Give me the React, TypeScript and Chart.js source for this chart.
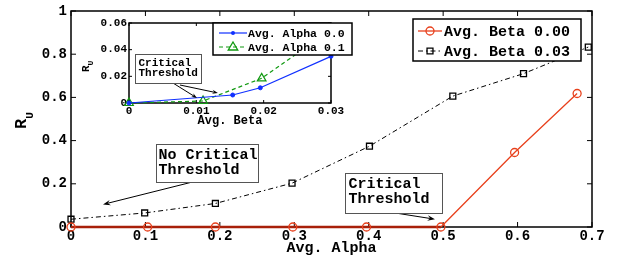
import React, { useEffect, useRef } from 'react';
import { Chart, registerables } from 'chart.js';

Chart.register(...registerables);

const FONT = '"Liberation Mono", "Courier New", monospace';

// ---- main chart data ----
const mainXTicks = [0, 0.1, 0.2, 0.3, 0.4, 0.5, 0.6, 0.7];
const mainYTicks = [0, 0.2, 0.4, 0.6, 0.8, 1];
const beta0Alpha = [0, 0.103, 0.194, 0.298, 0.397, 0.497, 0.596, 0.68];
const beta0RU = [0, 0, 0, 0, 0, 0, 0.345, 0.618];
const beta3Alpha = [0, 0.099, 0.194, 0.297, 0.401, 0.513, 0.608, 0.695];
const beta3RU = [0.036, 0.065, 0.109, 0.203, 0.374, 0.606, 0.71, 0.833];
const mainLegendLabels = ['Avg. Beta 0.00', 'Avg. Beta 0.03'];

// ---- inset data ----
const insetXTicks = [0, 0.01, 0.02, 0.03];
const insetYTicks = [0, 0.02, 0.04, 0.06];
const alpha0Beta = [0, 0.0154, 0.0195, 0.03];
const alpha0RU = [0, 0.006, 0.0114, 0.035];
const alpha1Beta = [0, 0.011, 0.0197, 0.03];
const alpha1RU = [0, 0.0015, 0.0185, 0.055];
const insetLegendLabels = ['Avg. Alpha 0.0', 'Avg. Alpha 0.1'];

const RED = '#e8401c';
const DARKRED = '#a8200a';
const BLUE = '#1030ff';
const GREEN = '#119911';

type Note = {
  x: number; y: number; w: number; h: number;
  lines: string[]; font: string; lineH: number; padX: number; padY: number;
  arrows: { fx: number; fy: number; tx: number; ty: number }[];
  head: number;
};

const mainNotes: Note[] = [
  {
    x: 0.1142, y: 0.382, w: 102, h: 38, lines: ['No Critical', 'Threshold'],
    font: `bold 15px ${FONT}`, lineH: 15.5, padX: 2, padY: 1.5,
    arrows: [{ fx: 0.164, fy: 0.209, tx: 0.043, ty: 0.1045 }], head: 8,
  },
  {
    x: 0.368, y: 0.25, w: 97, h: 40, lines: ['Critical', 'Threshold'],
    font: `bold 15px ${FONT}`, lineH: 15, padX: 3, padY: 2.5,
    arrows: [{ fx: 0.438, fy: 0.0636, tx: 0.489, ty: 0.036 }], head: 8,
  },
];

const insetNotes: Note[] = [
  {
    x: 0.00089, y: 0.03675, w: 66, h: 29, lines: ['Critical', 'Threshold'],
    font: `bold 11px ${FONT}`, lineH: 10, padX: 3, padY: 3,
    arrows: [
      { fx: 0.00653, fy: 0.015, tx: 0.0101, ty: 0.00375 },
      { fx: 0.00757, fy: 0.0135, tx: 0.0132, ty: 0.0075 },
    ],
    head: 6,
  },
];

function drawArrow(ctx: CanvasRenderingContext2D, x1: number, y1: number, x2: number, y2: number, head: number) {
  const ang = Math.atan2(y2 - y1, x2 - x1);
  ctx.beginPath();
  ctx.moveTo(x1, y1);
  ctx.lineTo(x2 - Math.cos(ang) * head * 0.6, y2 - Math.sin(ang) * head * 0.6);
  ctx.stroke();
  ctx.beginPath();
  ctx.moveTo(x2, y2);
  ctx.lineTo(x2 - head * Math.cos(ang - 0.35), y2 - head * Math.sin(ang - 0.35));
  ctx.lineTo(x2 - head * 0.6 * Math.cos(ang), y2 - head * 0.6 * Math.sin(ang));
  ctx.lineTo(x2 - head * Math.cos(ang + 0.35), y2 - head * Math.sin(ang + 0.35));
  ctx.closePath();
  ctx.fill();
}

function drawNotes(chart: any, notes: Note[]) {
  const { ctx } = chart;
  const x = chart.scales.x;
  const y = chart.scales.y;
  ctx.save();
  notes.forEach((n) => {
    ctx.strokeStyle = '#000';
    ctx.fillStyle = '#000';
    ctx.lineWidth = 1;
    n.arrows.forEach((a) => {
      drawArrow(ctx, x.getPixelForValue(a.fx), y.getPixelForValue(a.fy), x.getPixelForValue(a.tx), y.getPixelForValue(a.ty), n.head);
    });
    const bx = Math.round(x.getPixelForValue(n.x)) + 0.5;
    const by = Math.round(y.getPixelForValue(n.y)) + 0.5;
    ctx.fillStyle = '#fff';
    ctx.fillRect(bx, by, n.w, n.h);
    ctx.strokeStyle = '#555';
    ctx.lineWidth = 1;
    ctx.strokeRect(bx, by, n.w, n.h);
    ctx.fillStyle = '#000';
    ctx.font = n.font;
    ctx.textAlign = 'left';
    ctx.textBaseline = 'middle';
    n.lines.forEach((l, i) => {
      ctx.fillText(l, bx + n.padX, by + n.padY + n.lineH * (i + 0.5) + 1);
    });
  });
  ctx.restore();
}

function drawMarker(ctx: CanvasRenderingContext2D, style: string, x: number, y: number, r: number, color: string) {
  ctx.save();
  ctx.strokeStyle = color;
  ctx.fillStyle = color;
  ctx.lineWidth = 1.3;
  ctx.setLineDash([]);
  ctx.beginPath();
  if (style === 'circle') {
    ctx.arc(x, y, r, 0, Math.PI * 2);
    ctx.stroke();
  } else if (style === 'dot') {
    ctx.arc(x, y, r, 0, Math.PI * 2);
    ctx.fill();
  } else if (style === 'rect') {
    const s = r * Math.SQRT1_2;
    ctx.rect(x - s, y - s, 2 * s, 2 * s);
    ctx.stroke();
  } else if (style === 'triangle') {
    ctx.moveTo(x, y - r);
    ctx.lineTo(x + r * 0.95, y + r * 0.6);
    ctx.lineTo(x - r * 0.95, y + r * 0.6);
    ctx.closePath();
    ctx.stroke();
  }
  ctx.restore();
}

type LegendItem = { label: string; color: string; dash: number[]; marker: string; r: number; width: number };

function drawLegend(
  ctx: CanvasRenderingContext2D, left: number, top: number, w: number, h: number,
  items: LegendItem[], rowY: number[], lineX: [number, number], textX: number, font: string,
) {
  ctx.save();
  ctx.fillStyle = '#fff';
  ctx.fillRect(left, top, w, h);
  ctx.strokeStyle = '#000';
  ctx.lineWidth = 1.5;
  ctx.strokeRect(left, top, w, h);
  items.forEach((it, i) => {
    const yy = top + rowY[i];
    ctx.strokeStyle = it.color;
    ctx.lineWidth = it.width;
    ctx.setLineDash(it.dash);
    ctx.beginPath();
    ctx.moveTo(left + lineX[0], yy);
    ctx.lineTo(left + lineX[1], yy);
    ctx.stroke();
    ctx.setLineDash([]);
    drawMarker(ctx, it.marker, left + (lineX[0] + lineX[1]) / 2, yy, it.r, it.color);
    ctx.fillStyle = '#000';
    ctx.font = font;
    ctx.textAlign = 'left';
    ctx.textBaseline = 'middle';
    ctx.fillText(it.label, left + textX, yy + 1);
  });
  ctx.restore();
}

function framePlugin(xTicks: number[], yTicks: number[], tickLen: number, lw: number, fillWhite: boolean) {
  return {
    id: 'frame',
    beforeDatasetsDraw(chart: any) {
      const { ctx, chartArea } = chart;
      const { left, right, top, bottom } = chartArea;
      const x = chart.scales.x;
      const y = chart.scales.y;
      ctx.save();
      if (fillWhite) {
        ctx.fillStyle = '#fff';
        ctx.fillRect(left, top, right - left, bottom - top);
      }
      ctx.strokeStyle = '#000';
      ctx.lineWidth = lw;
      ctx.strokeRect(left, top, right - left, bottom - top);
      ctx.lineWidth = 1;
      ctx.beginPath();
      xTicks.forEach((v) => {
        const px = x.getPixelForValue(v);
        ctx.moveTo(px, bottom);
        ctx.lineTo(px, bottom - tickLen);
        ctx.moveTo(px, top);
        ctx.lineTo(px, top + tickLen);
      });
      yTicks.forEach((v) => {
        const py = y.getPixelForValue(v);
        ctx.moveTo(left, py);
        ctx.lineTo(left + tickLen, py);
        ctx.moveTo(right, py);
        ctx.lineTo(right - tickLen, py);
      });
      ctx.stroke();
      ctx.restore();
    },
  };
}

function drawRU(ctx: CanvasRenderingContext2D, ox: number, oy: number, big: number, small: number, sub: number) {
  ctx.save();
  ctx.translate(ox, oy);
  ctx.rotate(-Math.PI / 2);
  ctx.fillStyle = '#000';
  ctx.textAlign = 'left';
  ctx.textBaseline = 'alphabetic';
  ctx.font = `bold ${big}px ${FONT}`;
  ctx.fillText('R', 0, 0);
  const w = ctx.measureText('R').width;
  ctx.font = `bold ${small}px ${FONT}`;
  ctx.fillText('U', w, sub);
  ctx.restore();
}

const mainTickFmt = (v: number) => (v === 0 ? '0' : v === 1 ? '1' : v.toFixed(1));
const insetTickFmt = (v: number) => (v === 0 ? '0' : v.toFixed(2));

export default function App() {
  const mainRef = useRef<HTMLCanvasElement>(null);
  const insetRef = useRef<HTMLCanvasElement>(null);

  useEffect(() => {
    document.body.style.margin = '0';
    const flat = (c: any) => c.p0.parsed.y === 0 && c.p1.parsed.y === 0;

    const main = new Chart(mainRef.current!, {
      type: 'line',
      data: {
        datasets: [
          {
            data: beta0Alpha.map((x, i) => ({ x, y: beta0RU[i] })),
            borderColor: RED,
            borderWidth: 1.3,
            pointStyle: 'circle',
            pointRadius: 4,
            pointBorderColor: RED,
            pointBackgroundColor: 'rgba(0,0,0,0)',
            pointBorderWidth: 1.3,
            clip: false as any,
            segment: {
              borderColor: (c: any) => (flat(c) ? DARKRED : RED),
              borderWidth: (c: any) => (flat(c) ? 2.6 : 1.3),
            },
          },
          {
            data: beta3Alpha.map((x, i) => ({ x, y: beta3RU[i] })),
            borderColor: '#000',
            borderWidth: 1,
            borderDash: [5, 3, 1.5, 3],
            pointStyle: 'rect',
            pointRadius: 4.2,
            pointBorderColor: '#000',
            pointBackgroundColor: 'rgba(0,0,0,0)',
            pointBorderWidth: 1.3,
            clip: false as any,
          },
        ],
      },
      options: {
        animation: false,
        responsive: false,
        events: [],
        layout: { padding: { top: 7, right: 26, left: 0, bottom: 0 } },
        plugins: { legend: { display: false }, tooltip: { enabled: false } },
        scales: {
          x: {
            type: 'linear',
            min: 0,
            max: 0.7,
            afterFit: (s: any) => { s.height = 34; },
            afterBuildTicks: (s: any) => { s.ticks = mainXTicks.map((v) => ({ value: v })); },
            grid: { display: false, drawTicks: false },
            border: { display: false },
            ticks: {
              callback: (v: any) => mainTickFmt(Number(v)),
              font: { family: FONT, size: 14, weight: 'bold', lineHeight: 1 },
              color: '#000',
              padding: 2,
              maxRotation: 0,
              autoSkip: false,
            },
          },
          y: {
            type: 'linear',
            min: 0,
            max: 1,
            afterFit: (s: any) => { s.width = 71; },
            afterBuildTicks: (s: any) => { s.ticks = mainYTicks.map((v) => ({ value: v })); },
            grid: { display: false, drawTicks: false },
            border: { display: false },
            ticks: {
              callback: (v: any) => mainTickFmt(Number(v)),
              font: { family: FONT, size: 14, weight: 'bold', lineHeight: 1 },
              color: '#000',
              padding: 4,
            },
          },
        },
      } as any,
      plugins: [
        framePlugin(mainXTicks, mainYTicks, 5, 1.5, false),
        {
          id: 'mainDecor',
          afterDatasetsDraw(chart: any) {
            const { ctx, chartArea } = chart;
            drawNotes(chart, mainNotes);
            drawLegend(
              ctx, chartArea.right - 179, chartArea.top + 8, 168, 42,
              [
                { label: mainLegendLabels[0], color: RED, dash: [], marker: 'circle', r: 4, width: 1.3 },
                { label: mainLegendLabels[1], color: '#000', dash: [5, 3, 1.5, 3], marker: 'rect', r: 4.2, width: 1 },
              ],
              [12, 32], [5, 29], 31, `bold 15px ${FONT}`,
            );
            ctx.save();
            ctx.fillStyle = '#000';
            ctx.font = `bold 15px ${FONT}`;
            ctx.textAlign = 'center';
            ctx.textBaseline = 'middle';
            ctx.fillText('Avg. Alpha', (chartArea.left + chartArea.right) / 2, chartArea.bottom + 21);
            ctx.restore();
            drawRU(ctx, chartArea.left - 45, (chartArea.top + chartArea.bottom) / 2 + 10, 17, 11, 7);
          },
        },
      ],
    });

    const inset = new Chart(insetRef.current!, {
      type: 'line',
      data: {
        datasets: [
          {
            data: alpha0Beta.map((x, i) => ({ x, y: alpha0RU[i] })),
            borderColor: BLUE,
            borderWidth: 1.2,
            pointStyle: 'circle',
            pointRadius: 2,
            pointBorderColor: BLUE,
            pointBackgroundColor: BLUE,
            pointBorderWidth: 1,
            clip: false as any,
          },
          {
            data: alpha1Beta.map((x, i) => ({ x, y: alpha1RU[i] })),
            borderColor: GREEN,
            borderWidth: 1.2,
            borderDash: [4, 3],
            pointStyle: 'triangle',
            pointRadius: 5,
            pointBorderColor: GREEN,
            pointBackgroundColor: 'rgba(0,0,0,0)',
            pointBorderWidth: 1.2,
            clip: false as any,
          },
        ],
      },
      options: {
        animation: false,
        responsive: false,
        events: [],
        layout: { padding: { top: 13, right: 39, left: 0, bottom: 0 } },
        plugins: { legend: { display: false }, tooltip: { enabled: false } },
        scales: {
          x: {
            type: 'linear',
            min: 0,
            max: 0.03,
            afterFit: (s: any) => { s.height = 27; },
            afterBuildTicks: (s: any) => { s.ticks = insetXTicks.map((v) => ({ value: v })); },
            grid: { display: false, drawTicks: false },
            border: { display: false },
            ticks: {
              callback: (v: any) => insetTickFmt(Number(v)),
              font: { family: FONT, size: 11, weight: 'bold', lineHeight: 1 },
              color: '#000',
              padding: 3,
              maxRotation: 0,
              autoSkip: false,
            },
          },
          y: {
            type: 'linear',
            min: 0,
            max: 0.06,
            afterFit: (s: any) => { s.width = 49; },
            afterBuildTicks: (s: any) => { s.ticks = insetYTicks.map((v) => ({ value: v })); },
            grid: { display: false, drawTicks: false },
            border: { display: false },
            ticks: {
              callback: (v: any) => insetTickFmt(Number(v)),
              font: { family: FONT, size: 11, weight: 'bold', lineHeight: 1 },
              color: '#000',
              padding: 2,
            },
          },
        },
      } as any,
      plugins: [
        framePlugin(insetXTicks, insetYTicks, 3, 1.5, true),
        {
          id: 'insetDecor',
          afterDatasetsDraw(chart: any) {
            const { ctx, chartArea } = chart;
            drawNotes(chart, insetNotes);
            drawLegend(
              ctx, chartArea.left + 84, chartArea.top, 139, 32,
              [
                { label: insetLegendLabels[0], color: BLUE, dash: [], marker: 'dot', r: 2, width: 1.2 },
                { label: insetLegendLabels[1], color: GREEN, dash: [4, 3], marker: 'triangle', r: 5, width: 1.2 },
              ],
              [10, 24], [6, 34], 35, `bold 11.5px ${FONT}`,
            );
            ctx.save();
            ctx.fillStyle = '#000';
            ctx.font = `bold 12px ${FONT}`;
            ctx.textAlign = 'center';
            ctx.textBaseline = 'middle';
            ctx.fillText('Avg. Beta', (chartArea.left + chartArea.right) / 2, chartArea.bottom + 18);
            ctx.restore();
            drawRU(ctx, chartArea.left - 40, (chartArea.top + chartArea.bottom) / 2 + 9, 11, 8, 4);
          },
        },
      ],
    });

    return () => {
      main.destroy();
      inset.destroy();
    };
  }, []);

  return (
    <div style={{ position: 'relative', width: 618, height: 261, background: '#fff' }}>
      <canvas ref={mainRef} width={618} height={261} style={{ position: 'absolute', left: 0, top: 0, width: 618, height: 261 }} />
      <canvas ref={insetRef} width={290} height={120} style={{ position: 'absolute', left: 80, top: 10, width: 290, height: 120 }} />
    </div>
  );
}
